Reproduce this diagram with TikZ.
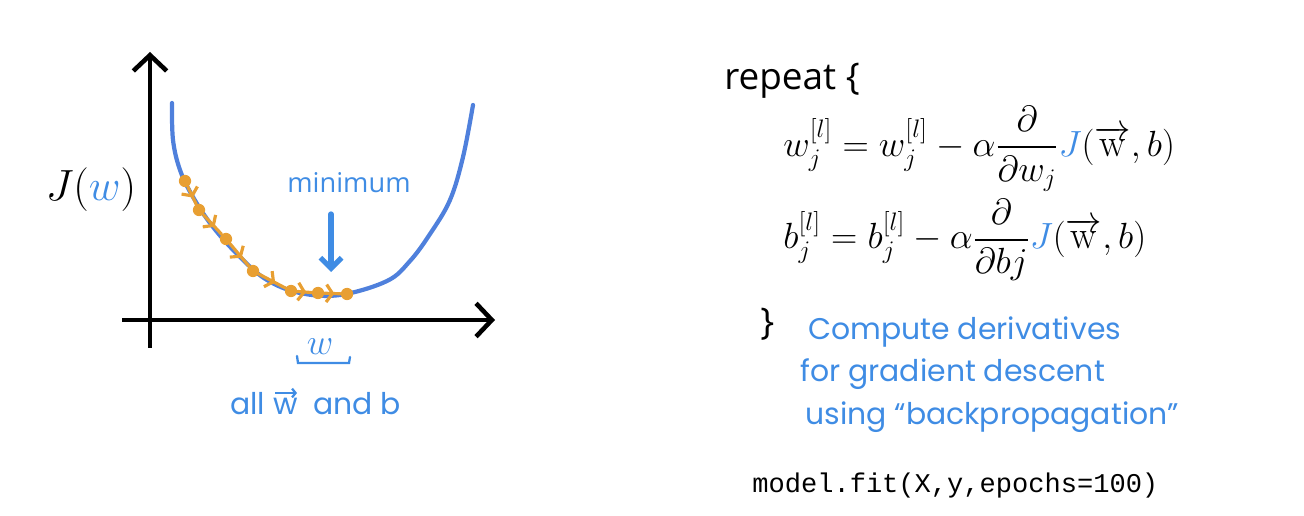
\documentclass[tikz,border=0pt]{standalone}
\usepackage{fontspec}
\usepackage{amsmath}
\newfontfamily\slidefont{Open Sans}
\setmonofont{Liberation Mono}
\newfontfamily\handfont{Poppins}
\usetikzlibrary{positioning}
\usetikzlibrary{arrows.meta}
\usetikzlibrary{decorations.markings}
\definecolor{curveblue}{HTML}{4F80DC}
\definecolor{inkblue}{HTML}{3F8CE4}
\definecolor{steporange}{HTML}{E89F32}
\tikzset{axis/.style = {line width=2.6pt,
    -{Straight Barb[length=9pt,width=19pt]}}}
\tikzset{stepmark/.style = {decoration={markings,
    mark=at position 0.62 with {\arrow{Straight Barb[length=3.5pt,width=10pt]}}},
                      postaction={decorate}}}
\tikzset{stepdot/.style = {fill=steporange, circle, inner sep=0, minimum size=7pt}}
\tikzset{hand/.style = {text=inkblue, inner sep=0,
    font=\handfont\fontsize{17}{20}\selectfont}}
\tikzset{every picture/.style={x=0.02cm, y=-0.02cm}}

\begin{document}
\begin{tikzpicture}
      \useasboundingbox (0,0) rectangle (1304,516);
      % axes
      \coordinate (o) at (150,320);
      \coordinate (ytop) at (150,52);
      \coordinate (ybot) at (150,348);
      \coordinate (xleft) at (122,320);
      \coordinate (xright) at (495,320);
      \draw[axis] (ybot) -- (ytop);
      \draw[axis] (xleft) -- (xright);
      % cost curve
      \draw[curveblue, line width=2.4pt, line cap=round] plot[smooth, tension=0.6]
        coordinates {(172,103) (173,140) (180,170) (193,197) (213,227)
                     (240,257) (267,280) (300,293) (340,295) (387,281)
                     (410,261) (430,234) (450,200) (463,157) (473,105)};
      % gradient descent steps
      \foreach \i/\x/\y in {1/185/181, 2/199/210, 3/226/239, 4/253/271,
                            5/291/291, 6/318/293, 7/347/294}
        \node[stepdot] (s\i) at (\x,\y) {};
      \foreach \a/\b in {1/2, 2/3, 3/4, 4/5, 5/6, 6/7}
        \draw[steporange, line width=1.8pt, line cap=round, stepmark] (s\a) -- (s\b);
      % labels on the plot
      \node[font=\fontsize{23}{26}\selectfont] (jw) at (91,190)
        {$J(\textcolor{inkblue}{w})$};
      \node[text=inkblue, font=\slidefont\fontsize{15.5}{18}\selectfont, anchor=base]
        (minlbl) at (349,193) {minimum};
      \coordinate (mintop) at (331,214);
      \coordinate (minbot) at (331,272);
      \draw[inkblue, line width=3pt, line cap=round,
            -{Straight Barb[length=6pt,width=12pt]}] (mintop) -- (minbot);
      \node[text=inkblue, font=\fontsize{21}{24}\selectfont, anchor=base]
        (wlbl) at (320,355) {$w$};
      \coordinate (brl) at (297,356);
      \coordinate (brr) at (350,357);
      \draw[inkblue, line width=1.3pt, line cap=round]
        (brl) -- ++(1,7) -- ++(51,0) -- (brr);
      \node[hand, anchor=base west] (all) at (230,415) {all};
      \node[hand, right=8 of all.base east, anchor=base west] (wvec) {w};
      \node[hand, right=14 of wvec.base east, anchor=base west] (andb) {and b};
      \draw[inkblue, line width=1.3pt, -{Straight Barb[length=2pt,width=5pt]}]
        ([xshift=1pt,yshift=3pt]wvec.north west) -- ([xshift=-1pt,yshift=3pt]wvec.north east);
      % update rule
      \node[font=\slidefont\fontsize{21}{24}\selectfont, anchor=base west, inner sep=0]
        (rep) at (724,90) {repeat \{};
      \node[font=\fontsize{22.5}{26}\selectfont, anchor=west, inner sep=0] (updw) at (783,149)
        {$\displaystyle w_j^{[l]} = w_j^{[l]} - \alpha\frac{\partial}{\partial w_j}
         \textcolor{inkblue}{J}(\overrightarrow{\mathrm{w}},b)$};
      \node[font=\fontsize{22.5}{26}\selectfont, anchor=west, inner sep=0] (updb) at (783,240)
        {$\displaystyle b_j^{[l]} = b_j^{[l]} - \alpha\frac{\partial}{\partial bj}
         \textcolor{inkblue}{J}(\overrightarrow{\mathrm{w}},b)$};
      \node[font=\slidefont\fontsize{21}{24}\selectfont, anchor=base west, inner sep=0]
        (rbrace) at (760,335) {\}};
      \node[hand, anchor=base west] (note1) at (808,340) {Compute derivatives};
      \node[hand, anchor=base west] (note2) at (800,382) {for gradient descent};
      \node[hand, anchor=base west] (note3) at (805,424)
        {using “backpropagation”};
      \node[font=\ttfamily\fontsize{15.4}{18}\selectfont, anchor=base west, inner sep=0]
        (fit) at (752,492) {model.fit(X,y,epochs=100)};
\end{tikzpicture}
\end{document}
